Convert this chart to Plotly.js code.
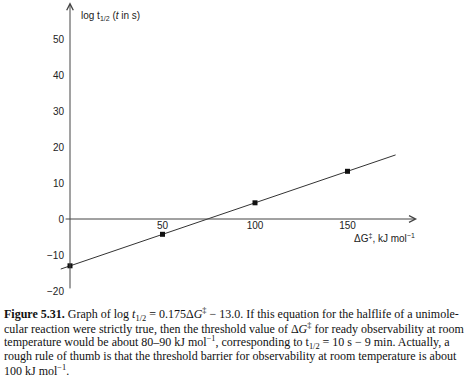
<!DOCTYPE html>
<html>
<head>
<meta charset="utf-8">
<script src="https://cdn.plot.ly/plotly-3.0.1.min.js"></script>
<style>html,body{margin:0;padding:0;background:#fff;}#chart{width:465px;height:384px;}</style>
</head>
<body>
<div id="chart"></div>
<script>
// ---- data ----
const deltaG = [0, 50, 100, 150];               // kJ/mol
const logHalfLife = [-13.0, -4.25, 4.5, 13.25];  // log t1/2 (t in s)
const fitLineG = [-5, 176];                      // ends of the drawn line
const fitLineLog = [-13.9, 17.8];
const xTickVals = [50, 100, 150];
const yTickVals = [-20, -10, 0, 10, 20, 30, 40, 50];
const yTickText = ['\u221220', '\u221210', '0', '10', '20', '30', '40', '50'];
const captionLines = [
  '<b>Figure 5.31.</b> Graph of log <i>t</i><sub>1/2</sub> = 0.175\u0394<i>G</i><sup>\u2021</sup> \u2212 13.0. If this equation for the halflife of a unimole-',
  'cular reaction were strictly true, then the threshold value of \u0394<i>G</i><sup>\u2021</sup> for ready observability at room',
  'temperature would be about 80\u201390 kJ mol<sup>\u22121</sup>, corresponding to t<sub>1/2</sub> = 10 s \u2212 9 min. Actually, a',
  'rough rule of thumb is that the threshold barrier for observability at room temperature is about',
  '100 kJ mol<sup>\u22121</sup>.'
];

// ---- layout geometry ----
const W = 465, H = 384;
const M = {l: 60, r: 44, t: 0, b: 89};
const PW = W - M.l - M.r, PH = H - M.t - M.b;
const px2paperX = px => (px - M.l) / PW;
const py2paperY = py => (M.t + PH - py) / PH;

const axisColor = '#444';
const textFont = {family: 'Liberation Sans, Arial, sans-serif', size: 10, color: '#222'};

const traces = [
  {x: fitLineG, y: fitLineLog, mode: 'lines', line: {color: '#333', width: 1}, hoverinfo: 'skip'},
  {x: deltaG, y: logHalfLife, mode: 'markers', marker: {symbol: 'square', size: 5, color: '#111'}, cliponaxis: false}
];

const annotations = [
  // axes with open arrowheads
  {x: 187.6, y: 0, ax: -3.2, ay: 0, xref: 'x', yref: 'y', axref: 'x', ayref: 'y', text: '', showarrow: true,
   arrowhead: 5, arrowsize: 1.3, arrowwidth: 1, arrowcolor: axisColor},
  {x: 0, y: 60.2, ax: 0, ay: -19.7, xref: 'x', yref: 'y', axref: 'x', ayref: 'y', text: '', showarrow: true,
   arrowhead: 5, arrowsize: 1.3, arrowwidth: 1, arrowcolor: axisColor},
  // axis titles
  {x: px2paperX(79), y: py2paperY(16), xref: 'paper', yref: 'paper', xanchor: 'left', yanchor: 'middle', showarrow: false,
   text: 'log t<sub>1/2</sub> (<i>t</i> in s)', font: textFont},
  {x: px2paperX(417), y: py2paperY(238), xref: 'paper', yref: 'paper', xanchor: 'right', yanchor: 'middle', showarrow: false,
   text: '\u0394G<sup>\u2021</sup>, kJ mol<sup>\u22121</sup>', font: textFont}
];

const capY = [314, 328, 342, 356, 370];
captionLines.forEach((t, i) => {
  annotations.push({x: px2paperX(2), y: py2paperY(capY[i]), xref: 'paper', yref: 'paper', xanchor: 'left', yanchor: 'middle',
    align: 'left', showarrow: false, text: t,
    font: {family: 'Liberation Serif, Times New Roman, serif', size: 12, color: '#111'}});
});

const layout = {
  width: W, height: H,
  margin: M,
  paper_bgcolor: '#fff', plot_bgcolor: '#fff',
  showlegend: false,
  xaxis: {range: [-(70 - M.l) / 1.85, -(70 - M.l) / 1.85 + PW / 1.85], showgrid: false, zeroline: false, showline: false,
          ticks: '', tickvals: xTickVals, tickfont: textFont, anchor: 'free', position: py2paperY(219), ticklabelstandoff: -1},
  yaxis: {range: [-(M.t + PH - 219) / 3.6, 219 / 3.6], showgrid: false, zeroline: false, showline: false,
          ticks: '', tickvals: yTickVals, ticktext: yTickText, tickfont: textFont, anchor: 'free', position: px2paperX(70),
          ticklabelstandoff: 6},
  annotations: annotations
};

Plotly.newPlot('chart', traces, layout, {staticPlot: true, displayModeBar: false});
</script>
</body>
</html>
